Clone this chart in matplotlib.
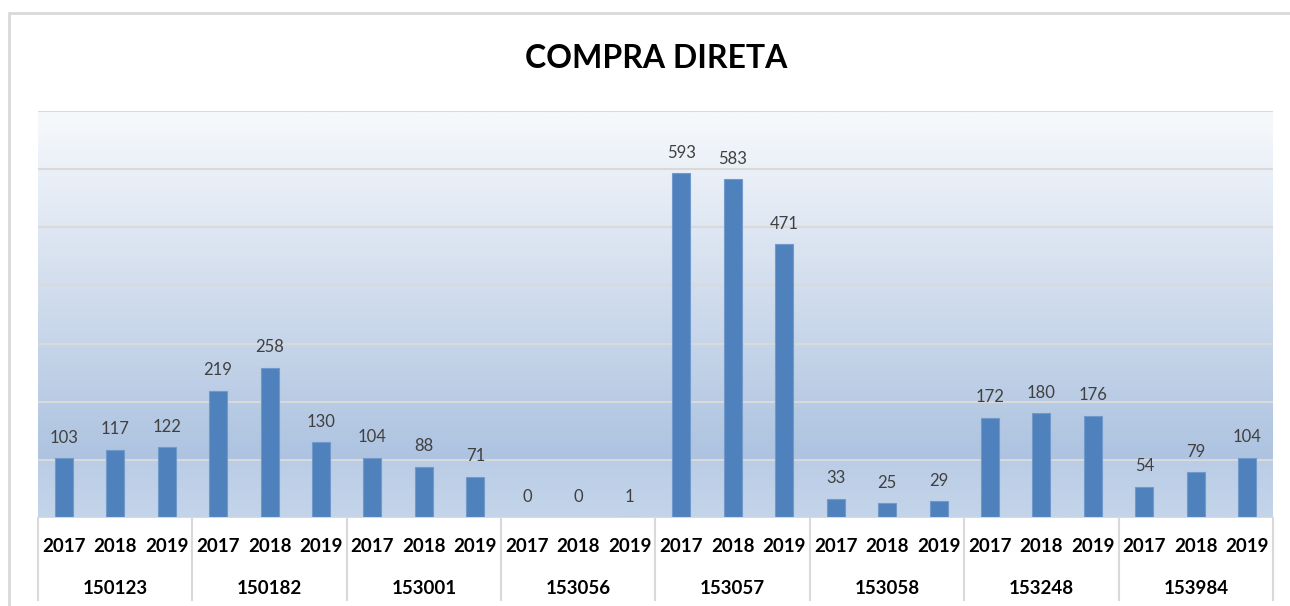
import numpy as np
import matplotlib.pyplot as plt
from matplotlib.colors import LinearSegmentedColormap
from matplotlib.lines import Line2D
from matplotlib.patches import Rectangle

plt.rcParams['font.family'] = ['Lato', 'DejaVu Sans']

groups = ['150123', '150182', '153001', '153056', '153057', '153058', '153248', '153984']
years = ['2017', '2018', '2019']
values = [
    [103, 117, 122],
    [219, 258, 130],
    [104, 88, 71],
    [0, 0, 1],
    [593, 583, 471],
    [33, 25, 29],
    [172, 180, 176],
    [54, 79, 104],
]
y_max = 700
grid_step = 100

W, H = 1290, 606
fig = plt.figure(figsize=(W / 100, H / 100), dpi=100)
ax = fig.add_axes([38 / W, 1 - 518 / H, (1273 - 38) / W, (518 - 111) / H])

n = len(groups) * len(years)
ax.set_xlim(-0.5, n - 0.5)
ax.set_ylim(0, y_max)

# background gradient (excel style)
bg = LinearSegmentedColormap.from_list('bg', [
    (0.0, '#c4d5ea'),
    (0.141, '#bacde6'),
    (0.143, '#adc3e0'),
    (1.0, '#f7f9fc'),
])
grad = np.linspace(0, 1, 400).reshape(-1, 1)
ax.imshow(grad, cmap=bg, origin='lower', aspect='auto',
          extent=(-0.5, n - 0.5, 0, y_max), zorder=0)

for y in range(grid_step, y_max + 1, grid_step):
    ax.axhline(y, color='#d9d9d9', lw=1.5, zorder=1)

xs = []
vals = []
for gi, row in enumerate(values):
    for yi, v in enumerate(row):
        xs.append(gi * len(years) + yi)
        vals.append(v)

bars = ax.bar(xs, vals, width=0.35, color='#4f81bd', edgecolor='#7199cb',
              lw=0.8, zorder=2)
for b, v in zip(bars, vals):
    ax.annotate(str(v), (b.get_x() + b.get_width() / 2, v),
                xytext=(0, 9), textcoords='offset points',
                ha='center', va='bottom', fontsize=12, color='#404040')

for s in ax.spines.values():
    s.set_visible(False)
ax.set_xticks([])
ax.set_yticks([])

# two-level category axis
tr = ax.get_xaxis_transform()
ax.axhline(0, color='#d9d9d9', lw=1.5, zorder=3)
for i, x in enumerate(xs):
    ax.text(x, -0.07, years[i % len(years)], transform=tr, ha='center',
            va='center', fontsize=13.5, fontweight='bold', color='black')
for gi, g in enumerate(groups):
    cx = gi * len(years) + (len(years) - 1) / 2
    ax.text(cx, -0.174, g, transform=tr, ha='center', va='center',
            fontsize=13.5, fontweight='bold', color='black')
bottom = -(600 - 518) / (518 - 111)
for gi in range(len(groups) + 1):
    x = gi * len(years) - 0.5
    ax.add_line(Line2D([x, x], [0, bottom], transform=tr, color='#d9d9d9',
                       lw=1.5, clip_on=False))

fig.text(656 / W, 1 - 58 / H, 'COMPRA DIRETA', ha='center', va='center',
         fontsize=23, fontweight='bold', color='black')

# chart area border
fig.patches.append(Rectangle((9 / W, -0.1), 1.2, 1.1 - 13 / H,
                             transform=fig.transFigure, fill=False,
                             edgecolor='#d9d9d9', lw=2))

fig.savefig('out.png', dpi=100)
